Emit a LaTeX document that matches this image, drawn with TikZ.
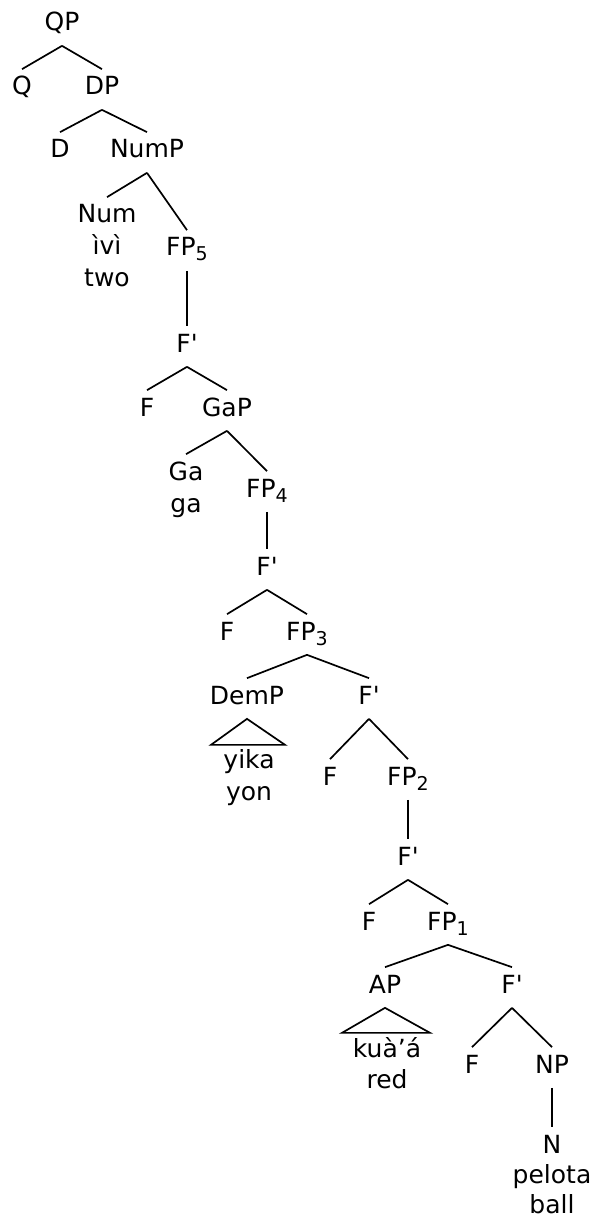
\documentclass[tikz,border=0pt]{standalone}
\usepackage{fontspec}
\setmainfont{DejaVu Sans}
\usepackage{tikz}

\newcommand{\fpidx}[1]{FP\raisebox{-0.2em}{\fontsize{19}{19}\selectfont #1}}
\newcommand{\fbar}{F\textquotesingle}
\newcommand{\branch}[2]{\draw ([yshift=-9pt]#1.south) -- ([yshift=7pt]#2.north);}

\begin{document}
\begin{tikzpicture}[x=1pt,y=-1pt,line width=1.7pt,
  every node/.style={anchor=base,inner sep=0pt,text height=18pt,text depth=5pt,
    font=\fontsize{25}{29}\selectfont}]
\useasboundingbox (0,0) rectangle (592,1222);

\node (qp) at (62,31) {QP};

\node (q) at (22,95) {Q};
\node (dp) at (102,95) {DP};

\node (d) at (60,158) {D};
\node (nump) at (147,158) {NumP};

\node (num) at (107,223) {Num};
\node (ivi) at (107,255) {ìvì};
\node (two) at (107,287) {two};
\node (fp5) at (187,256) {\fpidx{5}};

\node (fb5) at (187,352) {\fbar};

\node (f5) at (147,416) {F};
\node (gap) at (227,416) {GaP};

\node (ga) at (186,480) {Ga};
\node (gaw) at (186,512) {ga};
\node (fp4) at (267,497) {\fpidx{4}};

\node (fb4) at (267,575) {\fbar};

\node (f4) at (227,640) {F};
\node (fp3) at (307,640) {\fpidx{3}};

\node (demp) at (247,704) {DemP};
\node (fb3) at (369,704) {\fbar};
\node (yika) at (249,768) {yika};
\node (yon) at (249,800) {yon};

\node (f3) at (330,785) {F};
\node (fp2) at (408,785) {\fpidx{2}};

\node (fb2) at (408,865) {\fbar};

\node (f2) at (369,930) {F};
\node (fp1) at (448,930) {\fpidx{1}};

\node (ap) at (385,993) {AP};
\node (fb1) at (512,993) {\fbar};
\node (kuaa) at (387,1057) {kuà’á};
\node (red) at (387,1088) {red};

\node (f1) at (472,1073) {F};
\node (np) at (552,1073) {NP};

\node (n) at (552,1153) {N};
\node (pelota) at (552,1183) {pelota};
\node (ball) at (552,1213) {ball};

% branches
\branch{qp}{q}
\branch{qp}{dp}
\branch{dp}{d}
\branch{dp}{nump}
\branch{nump}{num}
\branch{nump}{fp5}
\branch{fp5}{fb5}
\branch{fb5}{f5}
\branch{fb5}{gap}
\branch{gap}{ga}
\branch{gap}{fp4}
\branch{fp4}{fb4}
\branch{fb4}{f4}
\branch{fb4}{fp3}
\branch{fp3}{demp}
\branch{fp3}{fb3}
\branch{fb3}{f3}
\branch{fb3}{fp2}
\branch{fp2}{fb2}
\branch{fb2}{f2}
\branch{fb2}{fp1}
\branch{fp1}{ap}
\branch{fp1}{fb1}
\branch{fb1}{f1}
\branch{fb1}{np}
\branch{np}{n}

% triangles
\draw ([yshift=-9pt]demp.south) -- ++(-36,26) -- ++(74,0) -- cycle;
\draw ([yshift=-9pt]ap.south) -- ++(-43,25) -- ++(88,0) -- cycle;
\end{tikzpicture}
\end{document}
